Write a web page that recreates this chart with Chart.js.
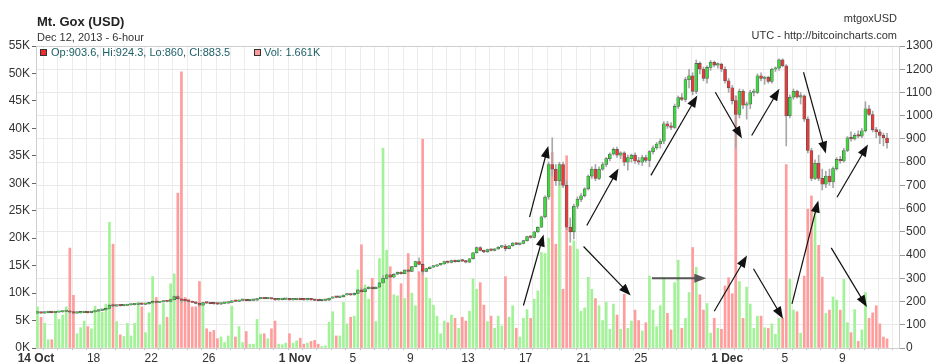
<!DOCTYPE html>
<html>
<head>
<meta charset="utf-8">
<script src="https://cdn.jsdelivr.net/npm/chart.js@4.4.1/dist/chart.umd.min.js"></script>
<style>
  body { margin: 0; background: #fff; }
  #wrap { position: relative; width: 937px; height: 364px; font-family: "Liberation Sans", Arial, sans-serif; color: #333; }
  #wrap canvas { position: absolute; left: 0; top: 0; }
  .t { position: absolute; white-space: nowrap; line-height: 1; }
  .sq { position: absolute; width: 5px; height: 5px; border: 1px solid #333; }
</style>
</head>
<body>
<div id="wrap">
  <canvas id="chartCanvas" width="937" height="364"></canvas>
  <div class="t" style="left:37px;top:14.5px;font-size:13px;font-weight:bold;color:#222">Mt. Gox (USD)</div>
  <div class="t" style="left:37px;top:31.7px;font-size:11px">Dec 12, 2013 - 6-hour</div>
  <div class="t" style="right:40px;top:13.4px;font-size:11px">mtgoxUSD</div>
  <div class="t" style="right:40px;top:30px;font-size:11px">UTC - http://bitcoincharts.com</div>
  <div class="sq" style="left:40px;top:49px;background:#ee2a2a"></div>
  <div class="t" style="left:51px;top:47.4px;font-size:11px;color:#1d5f66">Op:903.6, Hi:924.3, Lo:860, Cl:883.5</div>
  <div class="sq" style="left:254px;top:49px;background:#ff9a9a"></div>
  <div class="t" style="left:264px;top:47.4px;font-size:11px;color:#1d5f66">Vol: 1.661K</div>
</div>
<script>
// 6-hour candles, Mt. Gox, 14 Oct - 12 Dec 2013 (index = 6h slot from 14 Oct 00:00)
var opens = [
  150,152,150,152,153,152,154,155,157,160, 154,150,151,152,154,152,155,159,162,164,
  170,184,180,183,182,183,185,186,188,192, 188,190,194,200,196,198,203,200,208,221,
  212,205,203,200,196,192,184,195,193,191, 190,189,192,193,196,203,201,205,206,204,
  205,206,212,214,212,214,211,207,208,209, 210,207,208,210,208,207,208,207,205,204,
  205,206,214,220,218,220,228,232,228,235, 250,242,255,262,255,262,280,300,315,305,
  318,326,320,335,330,350,372,360,330,342, 348,352,358,362,372,368,376,372,378,374,
  370,384,410,432,420,414,424,420,426,434, 438,428,440,452,446,450,462,480,476,500,
  520,565,650,790,770,720,790,700,520,500, 610,640,655,685,740,770,730,770,790,815,
  835,855,830,840,800,815,830,805,800,820, 808,845,862,878,890,965,955,950,1040,1078,
  1070,1155,1172,1105,1225,1200,1160,1208,1230,1218, 1222,1200,1150,1120,1065,1005,1105,1045,1050,1100,
  1100,1172,1160,1165,1148,1200,1205,1240,1215,1000, 1080,1105,1080,1085,985,850,730,795,730,705,
  740,715,772,812,805,850,905,900,915,912, 935,1030,1005,940,930,915,903.6
];
var highs = [
  154,154,153,154,154,156,156,158,162,161, 155,152,153,156,155,156,160,163,166,172,
  188,187,184,184,184,187,187,189,194,193, 191,195,203,201,199,205,204,210,224,227,
  214,208,205,202,198,194,197,196,194,193, 191,193,194,197,205,204,206,207,207,206,
  207,213,216,215,215,215,212,209,210,211, 211,209,211,211,209,209,209,208,206,206,
  207,215,221,221,222,229,234,233,237,252, 258,257,264,264,263,282,312,318,317,320,
  328,328,337,337,352,374,388,364,344,350, 354,360,364,374,375,378,378,380,380,376,
  386,412,435,436,422,426,427,428,436,440, 446,442,454,455,452,464,482,484,502,522,
  568,655,800,905,790,800,800,720,560,620, 650,665,690,745,780,790,780,800,820,840,
  862,865,845,845,830,835,840,820,830,830, 850,870,885,900,975,975,970,1050,1085,1095,
  1165,1200,1185,1240,1232,1210,1215,1238,1235,1228, 1226,1210,1160,1130,1085,1115,1112,1060,1110,1115,
  1180,1185,1170,1170,1205,1210,1245,1245,1220,1090, 1115,1110,1100,1090,995,860,810,830,770,760,
  770,780,820,825,860,910,930,925,935,945, 1060,1045,1020,950,940,925,924.3
];
var lows = [
  148,149,149,151,151,151,153,154,156,150, 147,149,150,151,150,151,154,158,160,163,
  169,177,179,180,181,182,184,185,187,186, 187,189,193,194,195,197,198,199,207,208,
  194,201,198,195,190,178,183,192,190,189, 187,188,191,192,195,200,200,204,203,203,
  204,205,211,211,211,210,206,206,207,208, 206,206,207,207,206,206,206,204,203,203,
  204,205,213,216,217,219,227,226,227,234, 240,241,254,252,254,261,279,298,302,304,
  316,318,319,326,329,349,358,316,328,340, 346,350,356,360,365,366,370,371,372,366,
  368,382,408,418,410,412,418,418,424,432, 418,426,438,444,444,448,460,472,474,498,
  518,560,640,740,700,700,690,510,455,470, 600,630,650,680,730,720,725,765,780,805,
  830,820,815,785,765,800,795,790,785,800, 780,835,855,860,880,945,940,945,1030,1065,
  1060,1120,1090,1095,1180,1150,1140,1195,1210,1205, 1190,1140,1100,1050,860,990,1030,985,1030,1085,
  1095,1150,1135,1140,1140,1190,1195,1210,870,990, 1070,1075,1050,975,840,720,725,720,680,690,
  700,690,765,795,800,845,890,895,905,905, 930,1000,930,905,880,870,860
];
var closes = [
  152,150,152,153,152,154,155,157,160,154, 150,151,152,154,152,155,159,162,164,170,
  184,180,183,182,183,185,186,188,192,188, 190,194,200,196,198,203,200,208,221,212,
  205,203,200,196,192,184,195,193,191,190, 189,192,193,196,203,201,205,206,204,205,
  206,212,214,212,214,211,207,208,209,210, 207,208,210,208,207,208,207,205,204,205,
  206,214,220,218,220,228,232,228,235,250, 242,255,262,255,262,280,300,315,305,318,
  326,320,335,330,350,372,360,330,342,348, 352,358,362,372,368,376,372,378,374,370,
  384,410,432,420,414,424,420,426,434,438, 428,440,452,446,450,462,480,476,500,520,
  565,650,790,770,720,790,700,520,500,610, 640,655,685,740,770,730,770,790,815,835,
  855,830,840,800,820,830,805,800,820,808, 845,862,878,890,965,955,950,1040,1078,1070,
  1155,1172,1105,1225,1200,1160,1208,1230,1218,1222, 1200,1150,1120,1065,1005,1105,1045,1050,1100,1105,
  1172,1160,1165,1148,1200,1205,1240,1215,1000,1080, 1105,1080,1085,985,850,730,795,730,705,740,
  715,772,812,805,850,905,900,915,912,935, 1030,1005,940,930,915,905,883.5
];
// volume in thousands of BTC
var volumes = [
  7.5,5.6,4.5,1.5,1.5,6.4,5.2,6.0,7.5,18.2, 9.6,2.6,3.7,4.9,3.9,3.5,7.6,6.8,6.5,8.0,
  22.9,18.9,4.8,2.4,2.1,4.5,2.2,4.5,8.0,7.5, 2.8,6.4,13.0,9.2,4.2,8.1,5.6,11.7,13.5,28.2,
  50.3,9.2,8.9,7.5,7.5,12.1,8.2,3.5,2.9,3.2, 1.7,2.0,1.0,2.2,7.6,2.0,3.9,1.0,3.0,0.7,
  0.7,5.2,2.5,2.6,1.7,3.5,4.9,0.7,0.6,0.9, 2.6,0.9,1.3,1.8,0.7,0.9,1.2,1.4,0.7,0.3,
  0.4,4.7,6.6,2.2,2.2,8.3,4.4,5.6,5.8,14.2, 18.8,11.5,8.9,12.7,4.8,16.3,36.4,17.8,14.8,9.7,
  9.5,11.7,9.0,17.2,10.0,7.7,13.9,38.0,12.8,9.0, 7.8,5.8,2.6,4.9,4.6,6.0,5.4,3.6,5.6,4.9,
  6.7,12.6,10.7,11.9,7.8,4.8,5.8,3.6,5.8,4.0, 13.0,5.6,7.7,3.6,2.0,5.4,7.0,5.4,8.9,10.4,
  17.4,17.2,20.0,35.6,18.9,33.1,10.7,35.0,18.6,19.5, 18.0,6.7,7.3,12.9,10.7,9.0,7.7,5.0,8.3,3.4,
  8.0,6.0,3.4,9.8,3.6,4.9,6.9,5.0,3.1,4.6, 13.1,6.9,3.9,7.7,12.8,6.3,3.3,11.9,16.0,3.6,
  5.4,10.1,18.3,14.7,9.7,6.9,8.1,2.7,5.4,3.6, 3.4,11.3,12.8,9.9,45.9,12.1,5.4,11.1,8.0,3.6,
  5.8,5.8,3.7,3.6,4.4,2.5,5.4,5.4,33.4,12.5, 6.9,6.6,2.7,13.1,25.3,27.7,25.5,18.7,12.9,6.3,
  6.9,9.3,8.7,6.9,12.5,4.6,2.8,7.0,1.2,3.3, 10.1,5.4,6.4,7.7,4.4,2.0,1.661
];

// x axis: one tick per day, labels every few days
var tickDays = [0, 4, 8, 12, 18, 22, 26, 30, 34, 38, 42, 48, 52, 56];
var tickLabels = ['14 Oct', '18', '22', '26', '1 Nov', '5', '9', '13', '17', '21', '25', '1 Dec', '5', '9'];

// hand drawn trend arrows: [slot from, price from, slot to, price to]
var arrows = [
  [136.7, 563, 141.9, 870],
  [135.0, 183, 140.6, 489],
  [151.7, 437, 164.8, 226],
  [152.6, 527, 161.4, 773],
  [170.4, 743, 183.3, 1087],
  [188.3, 1101, 195.7, 902],
  [198.4, 915, 206.1, 1116],
  [212.8, 1187, 219.0, 837],
  [222.1, 649, 230.7, 876],
  [188.0, 158, 197.1, 398],
  [198.9, 341, 207.1, 126],
  [209.6, 190, 216.9, 635],
  [220.5, 431, 230.4, 176]
];
var flatArrow = [170.7, 300, 185.8, 300];

var upBody = '#3fd93f', downBody = '#e83a3a';
var upVol = '#a2f297', downVol = '#ff9c9c';

var isUp = closes.map((c, i) => c >= opens[i]);

Chart.defaults.font.family = '"Liberation Sans", Arial, sans-serif';
Chart.defaults.font.size = 12;
Chart.defaults.color = '#333';

function drawArrow(ctx, x0, y0, x1, y1, color, width) {
  var ang = Math.atan2(y1 - y0, x1 - x0);
  var len = 12, half = 4.5;
  ctx.strokeStyle = color;
  ctx.fillStyle = color;
  ctx.lineWidth = width;
  ctx.beginPath();
  ctx.moveTo(x0, y0);
  ctx.lineTo(x1 - Math.cos(ang) * len * 0.7, y1 - Math.sin(ang) * len * 0.7);
  ctx.stroke();
  ctx.beginPath();
  ctx.moveTo(x1, y1);
  ctx.lineTo(x1 - Math.cos(ang) * len + Math.sin(ang) * half, y1 - Math.sin(ang) * len - Math.cos(ang) * half);
  ctx.lineTo(x1 - Math.cos(ang) * len - Math.sin(ang) * half, y1 - Math.sin(ang) * len + Math.cos(ang) * half);
  ctx.closePath();
  ctx.fill();
}

var extras = {
  id: 'extras',
  beforeDatasetsDraw: function(chart) {
    var a = chart.chartArea, ctx = chart.ctx;
    ctx.save();
    ctx.strokeStyle = '#cfcfcf';
    ctx.lineWidth = 1;
    ctx.strokeRect(a.left + 0.5, a.top + 0.5, a.right - a.left - 1, a.bottom - a.top);
    ctx.restore();
  },
  afterDatasetsDraw: function(chart) {
    var ctx = chart.ctx, xs = chart.scales.x, ys = chart.scales.yp;
    ctx.save();
    arrows.forEach(function(a) {
      drawArrow(ctx, xs.getPixelForValue(a[0]), ys.getPixelForValue(a[1]),
        xs.getPixelForValue(a[2]), ys.getPixelForValue(a[3]), '#111', 1.2);
    });
    drawArrow(ctx, xs.getPixelForValue(flatArrow[0]), ys.getPixelForValue(flatArrow[1]),
      xs.getPixelForValue(flatArrow[2]), ys.getPixelForValue(flatArrow[3]), '#555', 2);
    ctx.restore();
  }
};

var ctx = document.getElementById('chartCanvas').getContext('2d');
var chart = new Chart(ctx, {
  type: 'bar',
  data: {
    datasets: [
      {
        label: 'Volume',
        yAxisID: 'yv',
        data: volumes.map((v, i) => ({ x: i, y: v * 1000 })),
        backgroundColor: isUp.map(u => u ? upVol : downVol),
        barThickness: 2,
        grouped: false,
        order: 3
      },
      {
        label: 'Range',
        yAxisID: 'yp',
        data: highs.map((h, i) => ({ x: i, y: [lows[i], h] })),
        backgroundColor: '#a8a8a8',
        barThickness: 1,
        grouped: false,
        order: 2
      },
      {
        label: 'Body',
        yAxisID: 'yp',
        data: opens.map((o, i) => ({ x: i, y: [o, closes[i]] })),
        backgroundColor: isUp.map(u => u ? upBody : downBody),
        borderColor: '#555',
        borderWidth: 0.6,
        borderSkipped: false,
        minBarLength: 1.5,
        barThickness: 3,
        grouped: false,
        order: 1
      }
    ]
  },
  options: {
    responsive: false,
    animation: false,
    layout: { padding: { top: 46, left: 0, right: 0, bottom: 0 } },
    plugins: { legend: { display: false }, tooltip: { enabled: false } },
    scales: {
      x: {
        type: 'linear',
        min: -0.4,
        max: 239.6,
        offset: false,
        afterFit: function(s) { s.height = 16; },
        afterBuildTicks: function(s) {
          var t = [];
          for (var d = 0; d < 60; d++) t.push({ value: 4 * d - 0.4 });
          s.ticks = t;
        },
        ticks: {
          autoSkip: false,
          maxRotation: 0,
          padding: 1,
          color: '#333',
          callback: function(v) {
            var k = tickDays.indexOf(Math.round((v + 0.4) / 4));
            return k < 0 ? '' : tickLabels[k];
          },
          font: function(c) {
            var l = c.tick && c.tick.label;
            return { size: 12, weight: (l && l.indexOf(' ') > 0) ? 'bold' : 'normal' };
          }
        },
        grid: { color: '#ececec', tickLength: 2, tickColor: '#bbb' },
        border: { display: false }
      },
      yv: {
        position: 'left',
        min: 0,
        max: 55000,
        afterFit: function(s) { s.width = 36; },
        ticks: { stepSize: 5000, padding: 2, callback: v => (v / 1000) + 'K' },
        grid: { drawOnChartArea: false, tickLength: 4, tickColor: '#666' },
        border: { display: false }
      },
      yp: {
        position: 'right',
        min: 0,
        max: 1300,
        afterFit: function(s) { s.width = 37; },
        ticks: { stepSize: 100, padding: 1, callback: v => String(v) },
        grid: { color: '#e9e9e9', tickLength: 5, tickColor: '#999' },
        border: { display: false }
      }
    }
  },
  plugins: [extras]
});
</script>
</body>
</html>
